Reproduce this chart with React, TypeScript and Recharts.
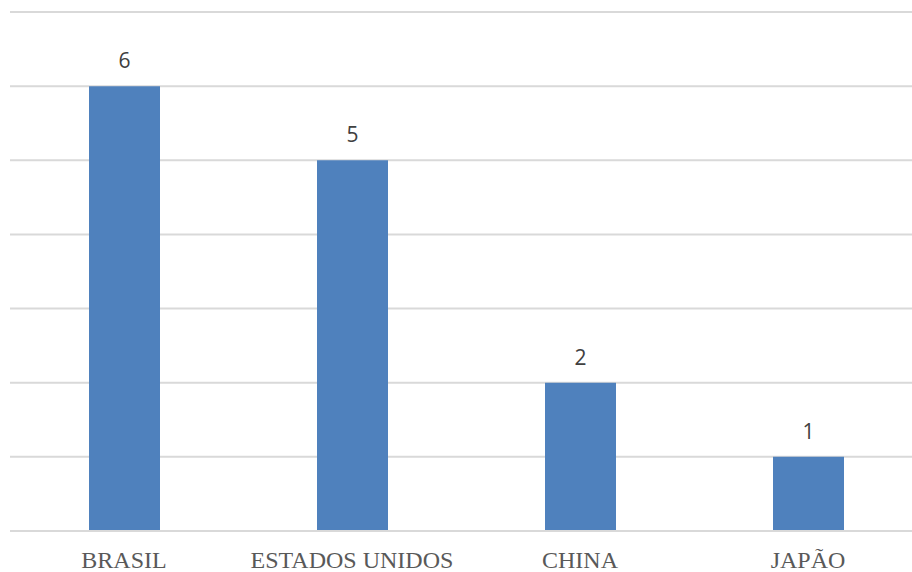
import React from "react";
import { BarChart, Bar, XAxis, YAxis, CartesianGrid, LabelList } from "recharts";

const countries = ["BRASIL", "ESTADOS UNIDOS", "CHINA", "JAPÃO"];
const totals = [6, 5, 2, 1];
const yTicks = [0, 1, 2, 3, 4, 5, 6, 7];

const data = countries.map((name, i) => ({ name, total: totals[i] }));

function CountryTick({ x, y, payload }: any) {
  return (
    <text
      x={x}
      y={y + 29}
      textAnchor="middle"
      fill="#595959"
      fontFamily="'Liberation Serif', 'Times New Roman', serif"
      fontSize={24}
    >
      {payload.value}
    </text>
  );
}

export default function App() {
  return (
    <div style={{ position: "absolute", left: 0, top: 0, width: 912, height: 572, overflow: "hidden", background: "#fff" }}>
      <BarChart width={922} height={572} data={data} margin={{ top: 12, right: 0, bottom: 11, left: 10 }}>
        <CartesianGrid vertical={false} stroke="#d9d9d9" strokeWidth={2} />
        <XAxis
          dataKey="name"
          axisLine={{ stroke: "#d9d9d9", strokeWidth: 2 }}
          tickLine={false}
          tick={<CountryTick />}
          interval={0}
          height={30}
        />
        <YAxis hide domain={[0, 7]} ticks={yTicks} />
        <Bar dataKey="total" fill="#4f81bd" barSize={71} isAnimationActive={false}>
          <LabelList
            dataKey="total"
            position="top"
            offset={18}
            fill="#404040"
            fontSize={21}
            fontFamily="'Open Sans', 'Liberation Sans', sans-serif"
          />
        </Bar>
      </BarChart>
    </div>
  );
}
